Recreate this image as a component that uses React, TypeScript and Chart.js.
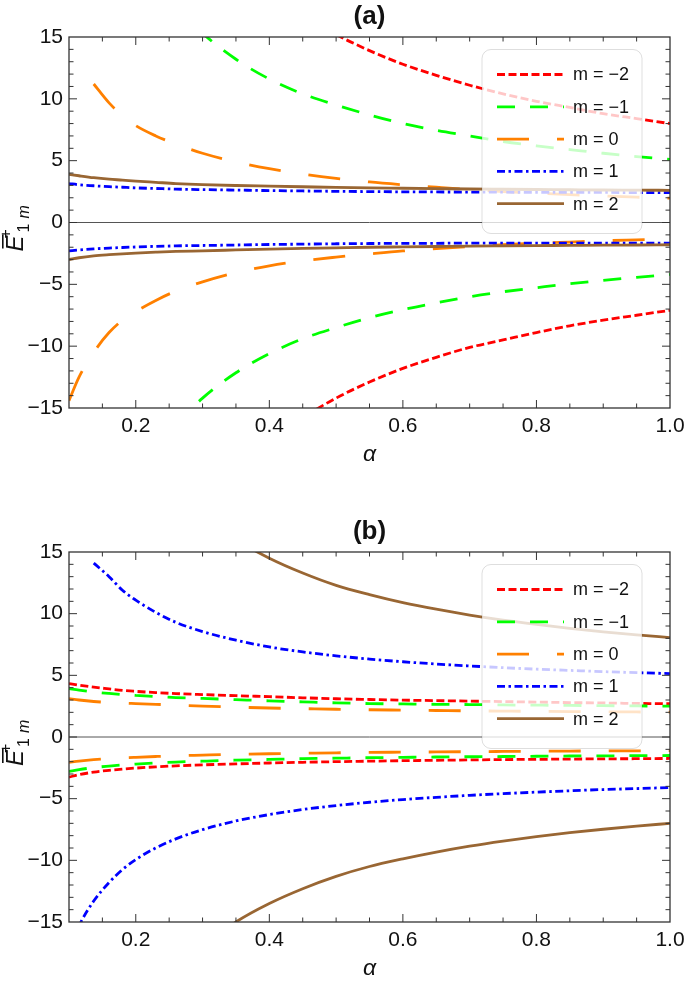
import React, { useEffect, useRef } from "react";
import { Chart, registerables } from "chart.js";
Chart.register(...registerables);

const N = null;
const ALPHA = [0.1, 0.115, 0.137, 0.16, 0.18, 0.2, 0.23, 0.26, 0.3, 0.35, 0.4, 0.45, 0.5, 0.55, 0.6, 0.65, 0.7, 0.75, 0.8, 0.85, 0.9, 0.95, 1.0];

const M_LABELS = ["m = \u22122", "m = \u22121", "m = 0", "m = 1", "m = 2"];
const X_TICKS = [0.2, 0.4, 0.6, 0.8, 1.0];
const Y_TICKS = [15, 10, 5, 0, -5, -10, -15];

// panel (a)
const A_M2_UP = [N, N, N, N, N, N, N, N, N, N, 18.8, 16.8, 15.2, 13.9, 12.8, 11.9, 11.1, 10.4, 9.8, 9.3, 8.8, 8.4, 8.0];
const A_M2_DN = [N, N, N, N, N, N, N, N, N, N, -17.75, -15.8, -14.2, -12.9, -11.8, -10.9, -10.1, -9.5, -8.9, -8.35, -7.9, -7.5, -7.1];
const A_M1_UP = [N, N, N, N, N, N, 19.7, 17.5, 15.3, 13.2, 11.6, 10.4, 9.5, 8.7, 8.0, 7.45, 7.0, 6.55, 6.2, 5.9, 5.6, 5.33, 5.1];
const A_M1_DN = [N, N, N, N, N, N, -18.5, -16.4, -14.2, -12.15, -10.6, -9.4, -8.5, -7.7, -7.05, -6.5, -6.0, -5.6, -5.27, -4.95, -4.68, -4.43, -4.2];
const A_M0_UP = [N, N, 11.2, 9.67, 8.65, 7.83, 7.0, 6.35, 5.6, 4.9, 4.35, 3.92, 3.57, 3.28, 3.05, 2.85, 2.66, 2.5, 2.37, 2.25, 2.14, 2.05, 1.97];
const A_M0_DN = [-14.4, -12.5, -10.5, -8.9, -7.9, -7.2, -6.3, -5.55, -4.8, -4.05, -3.5, -3.1, -2.8, -2.54, -2.3, -2.12, -1.95, -1.8, -1.68, -1.58, -1.48, -1.4, -1.32];
const A_P1_UP = [3.15, 3.05, 2.97, 2.9, 2.85, 2.8, 2.75, 2.7, 2.66, 2.62, 2.58, 2.55, 2.52, 2.5, 2.48, 2.47, 2.46, 2.45, 2.44, 2.43, 2.43, 2.42, 2.42];
const A_P1_DN = [-2.3, -2.22, -2.13, -2.07, -2.02, -1.98, -1.93, -1.89, -1.86, -1.82, -1.78, -1.75, -1.72, -1.7, -1.69, -1.68, -1.67, -1.67, -1.66, -1.66, -1.66, -1.66, -1.66];
const A_P2_UP = [3.9, 3.78, 3.62, 3.5, 3.43, 3.35, 3.25, 3.15, 3.06, 2.99, 2.94, 2.89, 2.84, 2.8, 2.77, 2.74, 2.71, 2.69, 2.67, 2.65, 2.63, 2.62, 2.6];
const A_P2_DN = [-3.0, -2.85, -2.7, -2.6, -2.53, -2.47, -2.4, -2.34, -2.29, -2.22, -2.15, -2.1, -2.05, -2.0, -1.97, -1.94, -1.91, -1.89, -1.87, -1.85, -1.83, -1.82, -1.8];

// panel (b)
const B_M2_UP = [4.33, 4.2, 4.04, 3.9, 3.78, 3.7, 3.6, 3.52, 3.44, 3.35, 3.27, 3.18, 3.1, 3.04, 2.99, 2.95, 2.91, 2.87, 2.83, 2.79, 2.76, 2.72, 2.7];
const B_M2_DN = [-3.25, -3.05, -2.85, -2.7, -2.6, -2.52, -2.42, -2.34, -2.26, -2.18, -2.11, -2.05, -2.0, -1.96, -1.92, -1.89, -1.86, -1.83, -1.81, -1.79, -1.77, -1.76, -1.74];
const B_M1_UP = [3.92, 3.8, 3.65, 3.53, 3.44, 3.37, 3.28, 3.2, 3.13, 3.03, 2.93, 2.85, 2.77, 2.71, 2.68, 2.65, 2.63, 2.6, 2.58, 2.56, 2.54, 2.52, 2.5];
const B_M1_DN = [-2.8, -2.65, -2.48, -2.36, -2.27, -2.2, -2.11, -2.03, -1.96, -1.88, -1.82, -1.76, -1.72, -1.68, -1.65, -1.62, -1.6, -1.58, -1.56, -1.54, -1.53, -1.51, -1.5];
const B_M0_UP = [3.11, 3.0, 2.88, 2.8, 2.75, 2.71, 2.65, 2.59, 2.51, 2.42, 2.35, 2.3, 2.25, 2.21, 2.18, 2.15, 2.12, 2.1, 2.08, 2.06, 2.04, 2.03, 2.02];
const B_M0_DN = [-2.05, -1.95, -1.84, -1.76, -1.7, -1.65, -1.58, -1.52, -1.47, -1.41, -1.36, -1.32, -1.28, -1.25, -1.23, -1.21, -1.19, -1.17, -1.15, -1.14, -1.13, -1.12, -1.1];
const B_P1_UP = [N, N, 14.1, 13.0, 11.9, 11.1, 10.1, 9.3, 8.55, 7.85, 7.3, 6.9, 6.58, 6.32, 6.1, 5.92, 5.76, 5.62, 5.5, 5.4, 5.3, 5.22, 5.14];
const B_P1_DN = [-17.2, -15.3, -13.3, -11.8, -10.75, -9.94, -8.99, -8.26, -7.51, -6.81, -6.29, -5.88, -5.56, -5.29, -5.07, -4.89, -4.73, -4.59, -4.47, -4.36, -4.26, -4.18, -4.1];
const B_P2_UP = [N, N, N, N, N, N, N, N, 18.0, 16.0, 14.5, 13.3, 12.3, 11.55, 10.9, 10.36, 9.89, 9.48, 9.13, 8.81, 8.53, 8.28, 8.06];
const B_P2_DN = [N, N, N, N, N, N, N, N, -17.1, -15.0, -13.5, -12.3, -11.3, -10.5, -9.88, -9.33, -8.85, -8.44, -8.08, -7.76, -7.48, -7.23, -7.0];

const COLORS = ["#FF0000", "#00FF00", "#FF8000", "#0000FF", "#996633"];
const DASHES = [[8, 3.5], [18, 15], [32, 28], [8, 3.5, 2.5, 3.5], []];
const LW = 2.8;
const FONT = '"Liberation Sans", Arial, sans-serif';

type Arr = (number | null)[];
type PanelCfg = { title: string; height: number; top: number; bottom: number; up: Arr[]; dn: Arr[] };

const PANELS: PanelCfg[] = [
  { title: "(a)", height: 480, top: 37, bottom: 408, up: [A_M2_UP, A_M1_UP, A_M0_UP, A_P1_UP, A_P2_UP], dn: [A_M2_DN, A_M1_DN, A_M0_DN, A_P1_DN, A_P2_DN] },
  { title: "(b)", height: 503, top: 72, bottom: 442, up: [B_M2_UP, B_M1_UP, B_M0_UP, B_P1_UP, B_P2_UP], dn: [B_M2_DN, B_M1_DN, B_M0_DN, B_P1_DN, B_P2_DN] },
];

function toPoints(arr: Arr) {
  const pts: { x: number; y: number }[] = [];
  ALPHA.forEach((x, k) => {
    const y = arr[k];
    if (y !== null && y !== undefined) pts.push({ x, y });
  });
  return pts;
}

function drawYLabel(ctx: CanvasRenderingContext2D, cx: number, cy: number) {
  ctx.save();
  ctx.translate(cx, cy);
  ctx.rotate(-Math.PI / 2);
  ctx.fillStyle = "#111";
  ctx.textBaseline = "alphabetic";
  ctx.textAlign = "left";
  ctx.font = `italic 24px ${FONT}`;
  const eW = ctx.measureText("E").width;
  const u = -29;
  ctx.fillText("E", u, 0);
  ctx.fillRect(u + 3, -21, eW - 2, 1.6);
  ctx.font = `16px ${FONT}`;
  ctx.fillText("+", u + eW - 3, -12);
  ctx.fillText("1", u + eW + 3, 6);
  ctx.font = `italic 16px ${FONT}`;
  ctx.fillText("m", u + eW + 17, 6);
  ctx.restore();
}

function makePlugin(cfg: PanelCfg) {
  return {
    id: "decor",
    beforeDatasetsDraw(chart: any) {
      const { ctx, chartArea: a, scales } = chart;
      const y0 = scales.y.getPixelForValue(0);
      ctx.save();
      ctx.strokeStyle = "#555";
      ctx.lineWidth = 1;
      ctx.beginPath();
      ctx.moveTo(a.left, y0);
      ctx.lineTo(a.right, y0);
      ctx.stroke();
      ctx.restore();
    },
    afterDatasetsDraw(chart: any) {
      const { ctx, chartArea: a, scales } = chart;
      ctx.save();
      // legend
      const bx = 482, by = a.top + 12.5, bw = 160, bh = 184;
      ctx.beginPath();
      (ctx as any).roundRect(bx, by, bw, bh, 9);
      ctx.fillStyle = "rgba(255,255,255,0.78)";
      ctx.fill();
      ctx.strokeStyle = "rgba(0,0,0,0.13)";
      ctx.lineWidth = 1;
      ctx.stroke();
      M_LABELS.forEach((lab, i) => {
        const yy = by + 25 + i * 32.3;
        ctx.save();
        ctx.beginPath();
        ctx.rect(497, yy - 5, 67, 10);
        ctx.clip();
        ctx.strokeStyle = COLORS[i];
        ctx.lineWidth = LW;
        ctx.lineCap = "butt";
        ctx.setLineDash(DASHES[i]);
        ctx.beginPath();
        ctx.moveTo(497, yy);
        ctx.lineTo(564, yy);
        ctx.stroke();
        ctx.restore();
        ctx.fillStyle = "#111";
        ctx.font = `18px ${FONT}`;
        ctx.textBaseline = "middle";
        ctx.textAlign = "left";
        ctx.fillText(lab, 573, yy + 1);
      });
      // frame
      ctx.strokeStyle = "#333";
      ctx.lineWidth = 1.3;
      ctx.setLineDash([]);
      ctx.strokeRect(a.left, a.top, a.right - a.left, a.bottom - a.top);
      // inward ticks
      ctx.lineWidth = 1;
      ctx.beginPath();
      for (let k = 1; k < 18; k++) {
        const v = 0.1 + k * 0.05;
        const major = Math.abs(v / 0.2 - Math.round(v / 0.2)) < 1e-6;
        const len = major ? 8 : 4.5;
        const px = scales.x.getPixelForValue(v);
        ctx.moveTo(px, a.bottom);
        ctx.lineTo(px, a.bottom - len);
        ctx.moveTo(px, a.top);
        ctx.lineTo(px, a.top + len);
      }
      for (let v = -14; v <= 14; v++) {
        const major = v % 5 === 0;
        const len = major ? 8 : 4.5;
        const py = scales.y.getPixelForValue(v);
        ctx.moveTo(a.left, py);
        ctx.lineTo(a.left + len, py);
        ctx.moveTo(a.right, py);
        ctx.lineTo(a.right - len, py);
      }
      ctx.stroke();
      ctx.restore();
    },
    afterDraw(chart: any) {
      const { ctx, chartArea: a } = chart;
      const cx = (a.left + a.right) / 2;
      ctx.save();
      ctx.fillStyle = "#111";
      ctx.textAlign = "center";
      ctx.textBaseline = "middle";
      ctx.font = `bold 26px ${FONT}`;
      ctx.fillText(cfg.title, cx, a.top - 20);
      ctx.font = `italic 23px ${FONT}`;
      ctx.fillText("\u03B1", cx, a.bottom + 47);
      ctx.restore();
      drawYLabel(ctx, 23, (a.top + a.bottom) / 2);
    },
  };
}

function Panel({ cfg }: { cfg: PanelCfg }) {
  const ref = useRef<HTMLCanvasElement>(null);
  useEffect(() => {
    const datasets: any[] = [];
    for (let i = 0; i < 5; i++) {
      [cfg.up[i], cfg.dn[i]].forEach((arr) => {
        datasets.push({
          label: M_LABELS[i],
          data: toPoints(arr),
          borderColor: COLORS[i],
          borderWidth: LW,
          borderDash: DASHES[i],
          borderCapStyle: "butt",
          pointRadius: 0,
          fill: false,
          cubicInterpolationMode: "monotone",
          clip: 0,
          order: 4 - i,
        });
      });
    }
    const chart = new Chart(ref.current as HTMLCanvasElement, {
      type: "line",
      data: { datasets },
      options: {
        animation: false,
        responsive: false,
        devicePixelRatio: 1,
        layout: { padding: { top: cfg.top, right: 15, left: 0, bottom: 0 } },
        plugins: { legend: { display: false }, title: { display: false }, tooltip: { enabled: false } },
        scales: {
          x: {
            type: "linear",
            min: 0.1,
            max: 1.0,
            grid: { display: false, drawTicks: false },
            border: { display: false },
            afterBuildTicks: (s: any) => { s.ticks = X_TICKS.map((v) => ({ value: v })); },
            afterFit: (s: any) => { s.height = cfg.height - cfg.bottom; s.paddingLeft = 0; s.paddingRight = 0; },
            ticks: {
              autoSkip: false,
              maxRotation: 0,
              padding: 6,
              color: "#111",
              font: { size: 21, family: FONT },
              callback: (v: any) => Number(v).toFixed(1),
            },
          },
          y: {
            type: "linear",
            min: -15,
            max: 15,
            grid: { display: false, drawTicks: false },
            border: { display: false },
            afterBuildTicks: (s: any) => { s.ticks = Y_TICKS.map((v) => ({ value: v })); },
            afterFit: (s: any) => { s.width = 69; s.paddingTop = 0; s.paddingBottom = 0; },
            ticks: {
              autoSkip: false,
              padding: 6,
              color: "#111",
              font: { size: 21, family: FONT },
              callback: (v: any) => (Number(v) < 0 ? "\u2212" + Math.abs(Number(v)) : String(v)),
            },
          },
        },
      },
      plugins: [makePlugin(cfg)],
    } as any);
    return () => chart.destroy();
  }, []);
  return <canvas ref={ref} width={685} height={cfg.height} style={{ display: "block", width: 685, height: cfg.height }} />;
}

export default function App() {
  return (
    <div style={{ position: "absolute", left: 0, top: 0, width: 685, height: 983, background: "#fff" }}>
      {PANELS.map((p) => (
        <Panel key={p.title} cfg={p} />
      ))}
    </div>
  );
}
